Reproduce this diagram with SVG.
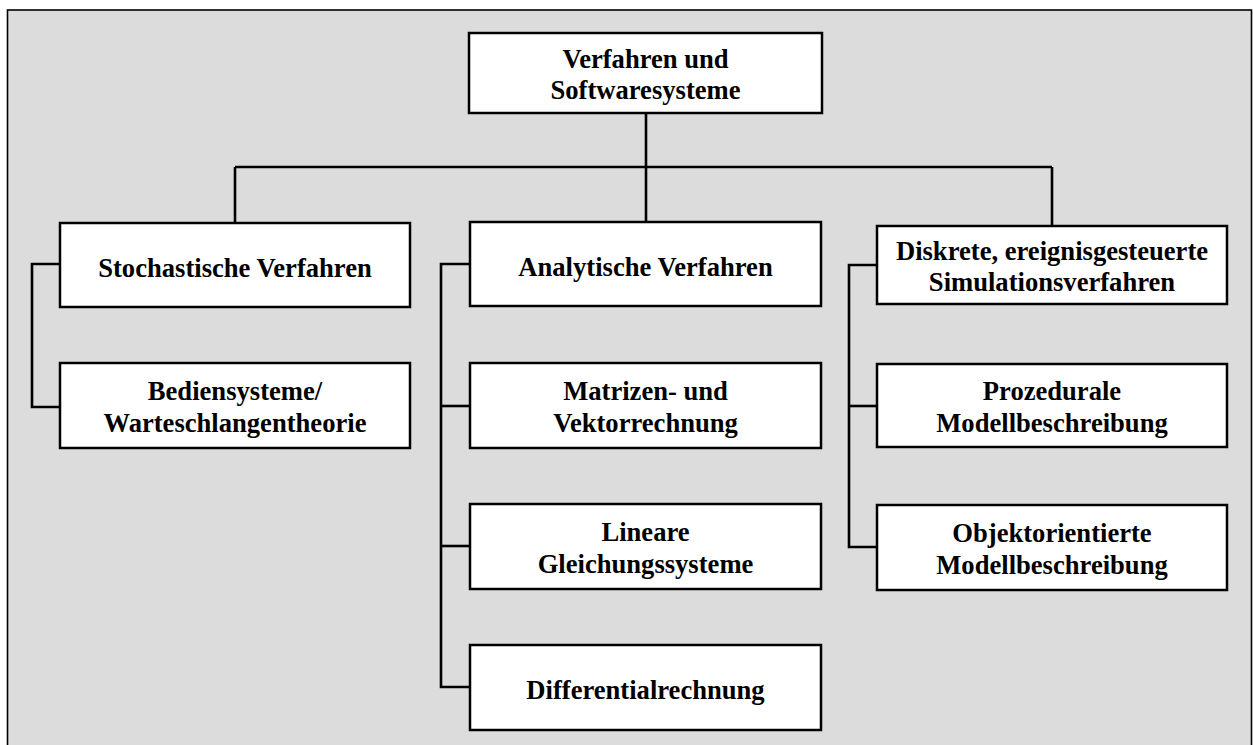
<svg xmlns="http://www.w3.org/2000/svg" width="1253" height="745" viewBox="0 0 1253 745">
  <style>
    .frame { fill: #dcdcdc; stroke: #000000; stroke-width: 1.6; }
    .box { fill: #ffffff; stroke: #000000; stroke-width: 2.5; }
    .lbl { font-family: 'Liberation Serif', 'Times New Roman', 'DejaVu Serif', serif; font-weight: 700; font-size: 26.6px; fill: #000000; text-anchor: middle; }
    .wire { fill: none; stroke: #000000; stroke-width: 2.6; }
  </style>

  <rect width="1253" height="745" fill="#ffffff"/>
  <rect class="frame" x="7.5" y="10" width="1244" height="760"/>

  <g id="connectors">
    <path class="wire" d="M646,114 V222"/>
    <path class="wire" d="M235,167 H1052"/>
    <path class="wire" d="M235,167 V222"/>
    <path class="wire" d="M1052,167 V225"/>
    <path class="wire" d="M60,264 H32 V407 H60"/>
    <path class="wire" d="M470,264 H441 V687 H470"/>
    <path class="wire" d="M441,406 H470"/>
    <path class="wire" d="M441,546 H470"/>
    <path class="wire" d="M877,265 H849 V547 H877"/>
    <path class="wire" d="M849,406 H877"/>
  </g>

  <g id="root">
    <rect class="box" x="469" y="33" width="353" height="80"/>
    <text class="lbl" x="645.5" y="67.5" font-family="Liberation Serif">Verfahren und</text>
    <text class="lbl" x="645.5" y="99" font-family="Liberation Serif">Softwaresysteme</text>
  </g>

  <g id="stochastisch">
    <rect class="box" x="60" y="223" width="350" height="84"/>
    <text class="lbl" x="235" y="276.5">Stochastische Verfahren</text>
  </g>

  <g id="bediensysteme">
    <rect class="box" x="60" y="363" width="350" height="85"/>
    <text class="lbl" x="235" y="400">Bediensysteme/</text>
    <text class="lbl" x="235" y="431.5">Warteschlangentheorie</text>
  </g>

  <g id="analytisch">
    <rect class="box" x="470" y="222" width="351" height="84"/>
    <text class="lbl" x="645.5" y="275.5">Analytische Verfahren</text>
  </g>

  <g id="matrizen">
    <rect class="box" x="470" y="363" width="351" height="85"/>
    <text class="lbl" x="645.5" y="400">Matrizen- und</text>
    <text class="lbl" x="645.5" y="431.5">Vektorrechnung</text>
  </g>

  <g id="lineare">
    <rect class="box" x="470" y="504" width="351" height="85"/>
    <text class="lbl" x="645.5" y="541">Lineare</text>
    <text class="lbl" x="645.5" y="572.5">Gleichungssysteme</text>
  </g>

  <g id="differential">
    <rect class="box" x="470" y="645" width="351" height="85"/>
    <text class="lbl" x="645.5" y="698.5">Differentialrechnung</text>
  </g>

  <g id="diskret">
    <rect class="box" x="877" y="226" width="350" height="78"/>
    <text class="lbl" x="1052" y="259.5">Diskrete, ereignisgesteuerte</text>
    <text class="lbl" x="1052" y="290.5">Simulationsverfahren</text>
  </g>

  <g id="prozedural">
    <rect class="box" x="877" y="364" width="350" height="83"/>
    <text class="lbl" x="1052" y="400">Prozedurale</text>
    <text class="lbl" x="1052" y="431.5">Modellbeschreibung</text>
  </g>

  <g id="objektorientiert">
    <rect class="box" x="877" y="505" width="350" height="85"/>
    <text class="lbl" x="1052" y="542">Objektorientierte</text>
    <text class="lbl" x="1052" y="573.5">Modellbeschreibung</text>
  </g>
</svg>
